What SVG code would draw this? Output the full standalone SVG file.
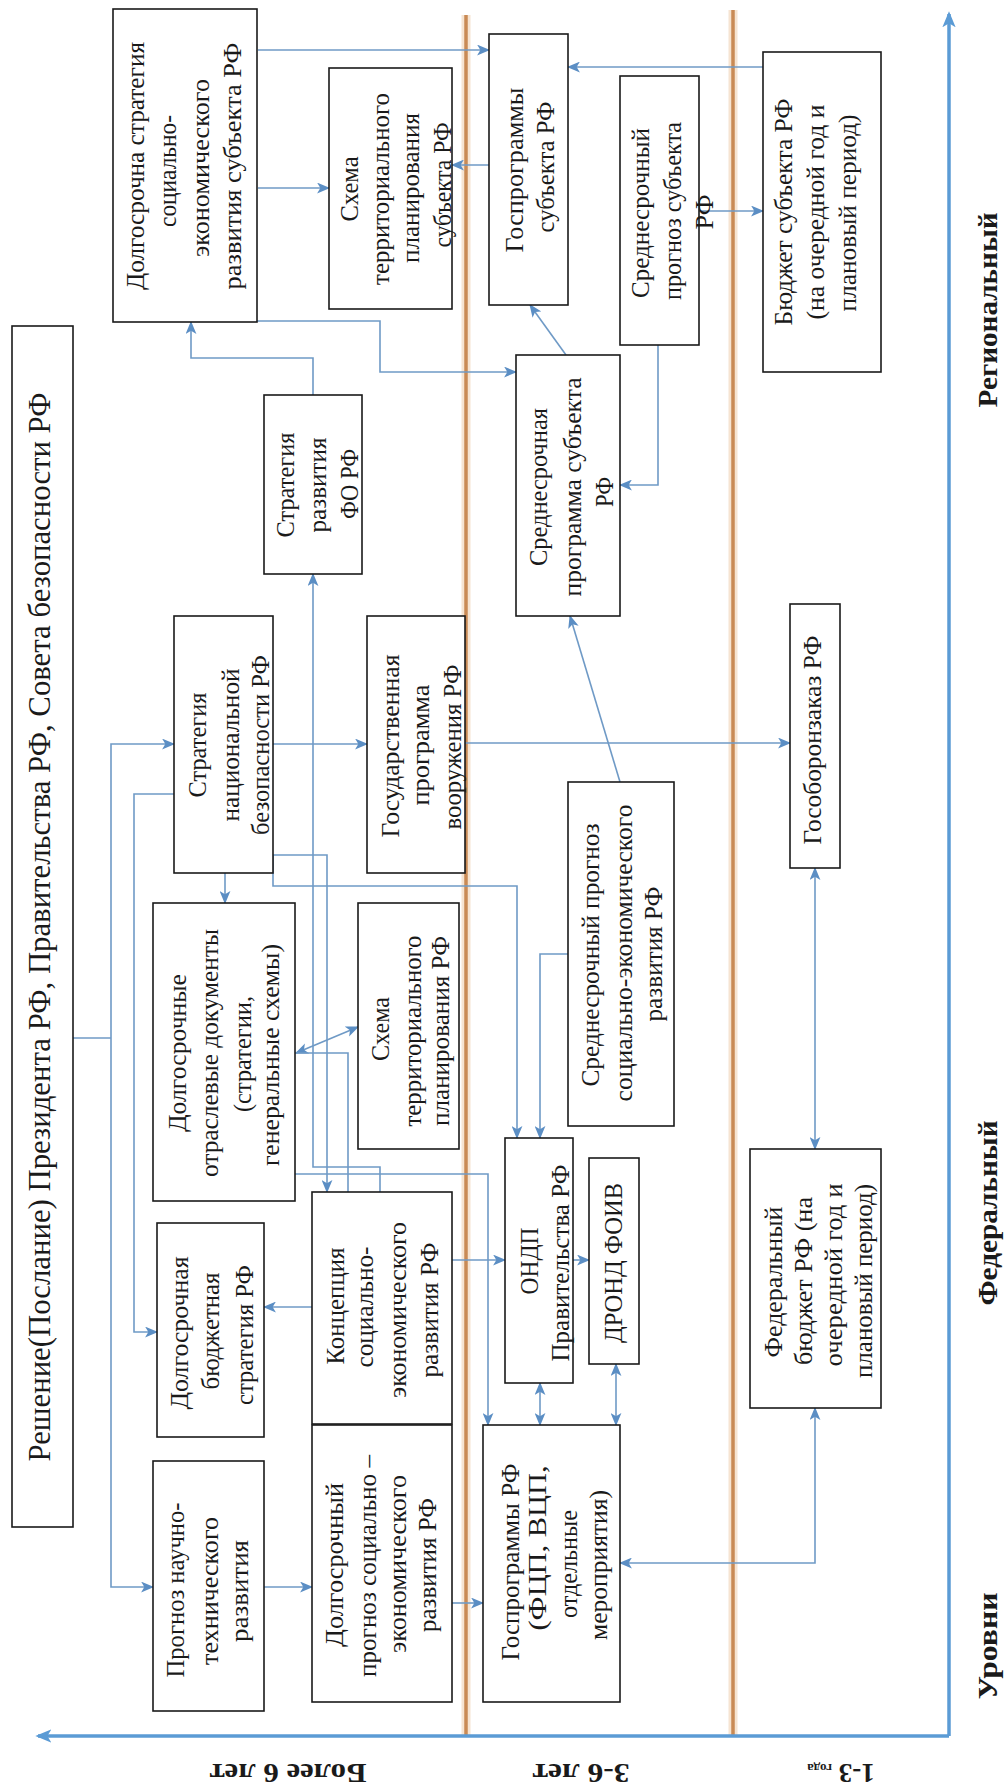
<svg xmlns="http://www.w3.org/2000/svg" width="1007" height="1789" viewBox="0 0 1007 1789">
<defs>
<style>
.box{fill:#fff;stroke:#1a1a1a;stroke-width:1.6}
.t{font-size:25px;fill:#1a1a1a;text-anchor:middle}
.b{font-size:27px;font-weight:bold;fill:#1a1a1a;text-anchor:middle}
.c{fill:none;stroke:#6f9ac6;stroke-width:1.6}
.ax{fill:none;stroke:#5b9bd5;stroke-width:3.5}
.sep{fill:none;stroke:#c98a55;stroke-width:3.5}
.seph{fill:none;stroke:#f6e4d2;stroke-width:9}
</style>
<marker id="ah" viewBox="0 0 12 10" refX="11" refY="5" markerWidth="13" markerHeight="11" markerUnits="userSpaceOnUse" orient="auto-start-reverse"><path d="M0,0 L12,5 L0,10 L3,5 z" fill="#5b8ec4"/></marker>
<marker id="axh" viewBox="0 0 12 10" refX="10" refY="5" markerWidth="16" markerHeight="14" markerUnits="userSpaceOnUse" orient="auto-start-reverse"><path d="M0,0 L12,5 L0,10 L3,5 z" fill="#5b9bd5"/></marker>
</defs>
<rect x="0" y="0" width="1007" height="1789" fill="#fff"/>

<g id="separators">
<path class="seph" d="M466,15 V1737 M733,10 V1737"/>
<path class="sep" d="M466,15 V1737 M733,10 V1737"/>
</g>

<g id="axes">
<path class="ax" d="M949,1736 V14" marker-end="url(#axh)"/>
<path class="ax" d="M949,1736 H38" marker-end="url(#axh)"/>
</g>

<g id="connectors">
<path class="c" d="M258,50 H489" marker-end="url(#ah)"/>
<path class="c" d="M258,188 H329" marker-end="url(#ah)"/>
<path class="c" d="M489,165 H452" marker-end="url(#ah)"/>
<path class="c" d="M763,67 H568" marker-end="url(#ah)"/>
<path class="c" d="M699,211 H763" marker-end="url(#ah)"/>
<path class="c" d="M658,345 V485 H620" marker-end="url(#ah)"/>
<path class="c" d="M566,355 L530,305" marker-end="url(#ah)"/>
<path class="c" d="M245,321 H380 V372 H516" marker-end="url(#ah)"/>
<path class="c" d="M313,395 V358 H191 V322" marker-end="url(#ah)"/>
<path class="c" d="M380,1192 V1167 H313 V574" marker-end="url(#ah)"/>
<path class="c" d="M73,1038 H111"/>
<path class="c" d="M174,744 H111 V1587 H153" marker-start="url(#ah)" marker-end="url(#ah)"/>
<path class="c" d="M174,794 H134 V1332 H157" marker-end="url(#ah)"/>
<path class="c" d="M225,873 V903" marker-end="url(#ah)"/>
<path class="c" d="M273,744 H367" marker-end="url(#ah)"/>
<path class="c" d="M465,743 H790" marker-end="url(#ah)"/>
<path class="c" d="M273,855 H327 V1192" marker-end="url(#ah)"/>
<path class="c" d="M273,855 V886 H517 V1138" marker-end="url(#ah)"/>
<path class="c" d="M568,954 H540 V1138" marker-end="url(#ah)"/>
<path class="c" d="M620,782 L570,616" marker-end="url(#ah)"/>
<path class="c" d="M296,1053 L358,1027" marker-start="url(#ah)" marker-end="url(#ah)"/>
<path class="c" d="M295,1053 H348 V1192"/>
<path class="c" d="M292,1138 V1174 H488 V1425" marker-end="url(#ah)"/>
<path class="c" d="M312,1307 H264" marker-end="url(#ah)"/>
<path class="c" d="M452,1260 H505" marker-end="url(#ah)"/>
<path class="c" d="M264,1587 H312" marker-end="url(#ah)"/>
<path class="c" d="M452,1603 H483" marker-end="url(#ah)"/>
<path class="c" d="M573,1260 H589" marker-end="url(#ah)"/>
<path class="c" d="M540,1383 V1425" marker-start="url(#ah)" marker-end="url(#ah)"/>
<path class="c" d="M616,1364 V1425" marker-start="url(#ah)" marker-end="url(#ah)"/>
<path class="c" d="M815,868 V1149" marker-start="url(#ah)" marker-end="url(#ah)"/>
<path class="c" d="M815,1408 V1563 H620" marker-start="url(#ah)" marker-end="url(#ah)"/>
</g>

<g id="nodes" font-family="'Liberation Serif', 'DejaVu Serif', 'Times New Roman', serif">
<g id="n-title">
<rect class="box" x="12" y="326" width="61" height="1201"/>
<text class="t" font-size="31" style="font-size:31px" transform="translate(50,927) rotate(-90)" textLength="1069" lengthAdjust="spacingAndGlyphs">Решение(Послание) Президента РФ, Правительства РФ, Совета безопасности РФ</text>
</g>

<g id="n-dss-subj">
<rect class="box" x="113" y="9" width="144" height="313"/>
<text class="t" transform="translate(144,166) rotate(-90)" textLength="248" lengthAdjust="spacingAndGlyphs">Долгосрочна стратегия</text>
<text class="t" transform="translate(176,171) rotate(-90)" textLength="112" lengthAdjust="spacingAndGlyphs">социально-</text>
<text class="t" transform="translate(209,168) rotate(-90)" textLength="178" lengthAdjust="spacingAndGlyphs">экономического</text>
<text class="t" transform="translate(241,166) rotate(-90)" textLength="247" lengthAdjust="spacingAndGlyphs">развития субъекта РФ</text>
</g>

<g id="n-stp-subj">
<rect class="box" x="329" y="68" width="123" height="241"/>
<text class="t" transform="translate(358,189) rotate(-90)" textLength="65" lengthAdjust="spacingAndGlyphs">Схема</text>
<text class="t" transform="translate(389,189) rotate(-90)" textLength="192" lengthAdjust="spacingAndGlyphs">территориального</text>
<text class="t" transform="translate(419,188) rotate(-90)" textLength="150" lengthAdjust="spacingAndGlyphs">планирования</text>
<text class="t" transform="translate(451,185) rotate(-90)" textLength="125" lengthAdjust="spacingAndGlyphs">субъекта РФ</text>
</g>

<g id="n-gp-subj">
<rect class="box" x="489" y="34" width="79" height="271"/>
<text class="t" transform="translate(523,170) rotate(-90)" textLength="165" lengthAdjust="spacingAndGlyphs">Госпрограммы</text>
<text class="t" transform="translate(554,167) rotate(-90)" textLength="131" lengthAdjust="spacingAndGlyphs">субъекта РФ</text>
</g>

<g id="n-sp-subj">
<rect class="box" x="620" y="76" width="79" height="269"/>
<text class="t" transform="translate(649,213) rotate(-90)" textLength="170" lengthAdjust="spacingAndGlyphs">Среднесрочный</text>
<text class="t" transform="translate(681,211) rotate(-90)" textLength="178" lengthAdjust="spacingAndGlyphs">прогноз субъекта</text>
<text class="t" transform="translate(713,212) rotate(-90)" textLength="35" lengthAdjust="spacingAndGlyphs">РФ</text>
</g>

<g id="n-budget-subj">
<rect class="box" x="763" y="52" width="118" height="320"/>
<text class="t" transform="translate(792,212) rotate(-90)" textLength="227" lengthAdjust="spacingAndGlyphs">Бюджет  субъекта РФ</text>
<text class="t" transform="translate(824,212) rotate(-90)" textLength="215" lengthAdjust="spacingAndGlyphs">(на очередной год и</text>
<text class="t" transform="translate(856,213) rotate(-90)" textLength="197" lengthAdjust="spacingAndGlyphs">плановый период)</text>
</g>

<g id="n-fo">
<rect class="box" x="264" y="395" width="98" height="179"/>
<text class="t" transform="translate(294,485) rotate(-90)" textLength="105" lengthAdjust="spacingAndGlyphs">Стратегия</text>
<text class="t" transform="translate(326,485) rotate(-90)" textLength="95" lengthAdjust="spacingAndGlyphs">развития</text>
<text class="t" transform="translate(358,484) rotate(-90)" textLength="70" lengthAdjust="spacingAndGlyphs">ФО РФ</text>
</g>

<g id="n-sp-subj-prog">
<rect class="box" x="516" y="355" width="104" height="261"/>
<text class="t" transform="translate(547,487) rotate(-90)" textLength="158" lengthAdjust="spacingAndGlyphs">Среднесрочная</text>
<text class="t" transform="translate(581,487) rotate(-90)" textLength="219" lengthAdjust="spacingAndGlyphs">программа субъекта</text>
<text class="t" transform="translate(613,492) rotate(-90)" textLength="30" lengthAdjust="spacingAndGlyphs">РФ</text>
</g>

<g id="n-snb">
<rect class="box" x="174" y="616" width="99" height="257"/>
<text class="t" transform="translate(206,745) rotate(-90)" textLength="105" lengthAdjust="spacingAndGlyphs">Стратегия</text>
<text class="t" transform="translate(239,745) rotate(-90)" textLength="153" lengthAdjust="spacingAndGlyphs">национальной</text>
<text class="t" transform="translate(269,745) rotate(-90)" textLength="180" lengthAdjust="spacingAndGlyphs">безопасности РФ</text>
</g>

<g id="n-gpv">
<rect class="box" x="367" y="616" width="98" height="257"/>
<text class="t" transform="translate(399,746) rotate(-90)" textLength="183" lengthAdjust="spacingAndGlyphs">Государственная</text>
<text class="t" transform="translate(429,745) rotate(-90)" textLength="121" lengthAdjust="spacingAndGlyphs">программа</text>
<text class="t" transform="translate(461,747) rotate(-90)" textLength="165" lengthAdjust="spacingAndGlyphs">вооружения РФ</text>
</g>

<g id="n-gozakaz">
<rect class="box" x="790" y="604" width="50" height="264"/>
<text class="t" transform="translate(821,740) rotate(-90)" textLength="209" lengthAdjust="spacingAndGlyphs">Гособоронзаказ РФ</text>
</g>

<g id="n-sp-rf">
<rect class="box" x="568" y="782" width="106" height="344"/>
<text class="t" transform="translate(599,955) rotate(-90)" textLength="263" lengthAdjust="spacingAndGlyphs">Среднесрочный прогноз</text>
<text class="t" transform="translate(632,953) rotate(-90)" textLength="297" lengthAdjust="spacingAndGlyphs">социально-экономического</text>
<text class="t" transform="translate(662,954) rotate(-90)" textLength="135" lengthAdjust="spacingAndGlyphs">развития  РФ</text>
</g>

<g id="n-otrasl">
<rect class="box" x="153" y="903" width="142" height="298"/>
<text class="t" transform="translate(186,1053) rotate(-90)" textLength="158" lengthAdjust="spacingAndGlyphs">Долгосрочные</text>
<text class="t" transform="translate(218,1053) rotate(-90)" textLength="248" lengthAdjust="spacingAndGlyphs">отраслевые документы</text>
<text class="t" transform="translate(251,1054) rotate(-90)" textLength="116" lengthAdjust="spacingAndGlyphs">(стратегии,</text>
<text class="t" transform="translate(279,1055) rotate(-90)" textLength="222" lengthAdjust="spacingAndGlyphs">генеральные схемы)</text>
</g>

<g id="n-stp-rf">
<rect class="box" x="358" y="903" width="101" height="246"/>
<text class="t" transform="translate(389,1029) rotate(-90)" textLength="64" lengthAdjust="spacingAndGlyphs">Схема</text>
<text class="t" transform="translate(421,1031) rotate(-90)" textLength="191" lengthAdjust="spacingAndGlyphs">территориального</text>
<text class="t" transform="translate(449,1031) rotate(-90)" textLength="190" lengthAdjust="spacingAndGlyphs">планирования РФ</text>
</g>

<g id="n-dbs">
<rect class="box" x="157" y="1223" width="107" height="214"/>
<text class="t" transform="translate(188,1333) rotate(-90)" textLength="153" lengthAdjust="spacingAndGlyphs">Долгосрочная</text>
<text class="t" transform="translate(219,1331) rotate(-90)" textLength="117" lengthAdjust="spacingAndGlyphs">бюджетная</text>
<text class="t" transform="translate(253,1335) rotate(-90)" textLength="140" lengthAdjust="spacingAndGlyphs">стратегия РФ</text>
</g>

<g id="n-concept">
<rect class="box" x="312" y="1192" width="140" height="232"/>
<text class="t" transform="translate(344,1306) rotate(-90)" textLength="117" lengthAdjust="spacingAndGlyphs">Концепция</text>
<text class="t" transform="translate(373,1307) rotate(-90)" textLength="121" lengthAdjust="spacingAndGlyphs">социально-</text>
<text class="t" transform="translate(406,1310) rotate(-90)" textLength="176" lengthAdjust="spacingAndGlyphs">экономического</text>
<text class="t" transform="translate(438,1310) rotate(-90)" textLength="135" lengthAdjust="spacingAndGlyphs">развития РФ</text>
</g>

<g id="n-dp">
<rect class="box" x="312" y="1425" width="140" height="277"/>
<text class="t" transform="translate(343,1565) rotate(-90)" textLength="164" lengthAdjust="spacingAndGlyphs">Долгосрочный</text>
<text class="t" transform="translate(376,1566) rotate(-90)" textLength="222" lengthAdjust="spacingAndGlyphs">прогноз социально –</text>
<text class="t" transform="translate(406,1564) rotate(-90)" textLength="178" lengthAdjust="spacingAndGlyphs">экономического</text>
<text class="t" transform="translate(436,1565) rotate(-90)" textLength="134" lengthAdjust="spacingAndGlyphs">развития РФ</text>
</g>

<g id="n-pntr">
<rect class="box" x="153" y="1461" width="111" height="250"/>
<text class="t" transform="translate(184,1590) rotate(-90)" textLength="175" lengthAdjust="spacingAndGlyphs">Прогноз научно-</text>
<text class="t" transform="translate(218,1591) rotate(-90)" textLength="148" lengthAdjust="spacingAndGlyphs">технического</text>
<text class="t" transform="translate(248,1591) rotate(-90)" textLength="102" lengthAdjust="spacingAndGlyphs">развития</text>
</g>

<g id="n-ondp">
<rect class="box" x="505" y="1138" width="68" height="245"/>
<text class="t" transform="translate(538,1261) rotate(-90)" textLength="67" lengthAdjust="spacingAndGlyphs">ОНДП</text>
<text class="t" transform="translate(569,1263) rotate(-90)" textLength="197" lengthAdjust="spacingAndGlyphs">Правительства  РФ</text>
</g>

<g id="n-drond">
<rect class="box" x="589" y="1158" width="50" height="206"/>
<text class="t" transform="translate(622,1263) rotate(-90)" textLength="160" lengthAdjust="spacingAndGlyphs">ДРОНД ФОИВ</text>
</g>

<g id="n-gp-rf">
<rect class="box" x="483" y="1425" width="137" height="277"/>
<text class="t" transform="translate(519,1562) rotate(-90)" textLength="197" lengthAdjust="spacingAndGlyphs">Госпрограммы РФ</text>
<text class="t" transform="translate(546,1548) rotate(-90)" textLength="165" lengthAdjust="spacingAndGlyphs">(ФЦП, ВЦП,</text>
<text class="t" transform="translate(577,1564) rotate(-90)" textLength="108" lengthAdjust="spacingAndGlyphs">отдельные</text>
<text class="t" transform="translate(607,1565) rotate(-90)" textLength="150" lengthAdjust="spacingAndGlyphs">мероприятия)</text>
</g>

<g id="n-fb">
<rect class="box" x="750" y="1149" width="131" height="259"/>
<text class="t" transform="translate(782,1282) rotate(-90)" textLength="151" lengthAdjust="spacingAndGlyphs">Федеральный</text>
<text class="t" transform="translate(812,1281) rotate(-90)" textLength="168" lengthAdjust="spacingAndGlyphs">бюджет РФ (на</text>
<text class="t" transform="translate(842,1275) rotate(-90)" textLength="183" lengthAdjust="spacingAndGlyphs">очередной год и</text>
<text class="t" transform="translate(872,1281) rotate(-90)" textLength="194" lengthAdjust="spacingAndGlyphs">плановый период)</text>
</g>
</g>

<g id="labels" font-family="'Liberation Serif', 'DejaVu Serif', 'Times New Roman', serif">
<text class="b" transform="translate(997,310) rotate(-90)" textLength="195" lengthAdjust="spacingAndGlyphs">Региональный</text>
<text class="b" transform="translate(997,1213) rotate(-90)" textLength="185" lengthAdjust="spacingAndGlyphs">Федеральный</text>
<text class="b" transform="translate(997,1646) rotate(-90)" textLength="107" lengthAdjust="spacingAndGlyphs">Уровни</text>
<text class="b" transform="translate(288,1764) rotate(180)" textLength="157" lengthAdjust="spacingAndGlyphs">Более 6 лет</text>
<text class="b" transform="translate(581,1764) rotate(180)" textLength="97" lengthAdjust="spacingAndGlyphs">3-6 лет</text>
<text class="b" transform="translate(841,1764) rotate(180)"><tspan>1-3 </tspan><tspan style="font-size:13px">года</tspan></text>
</g>
</svg>
